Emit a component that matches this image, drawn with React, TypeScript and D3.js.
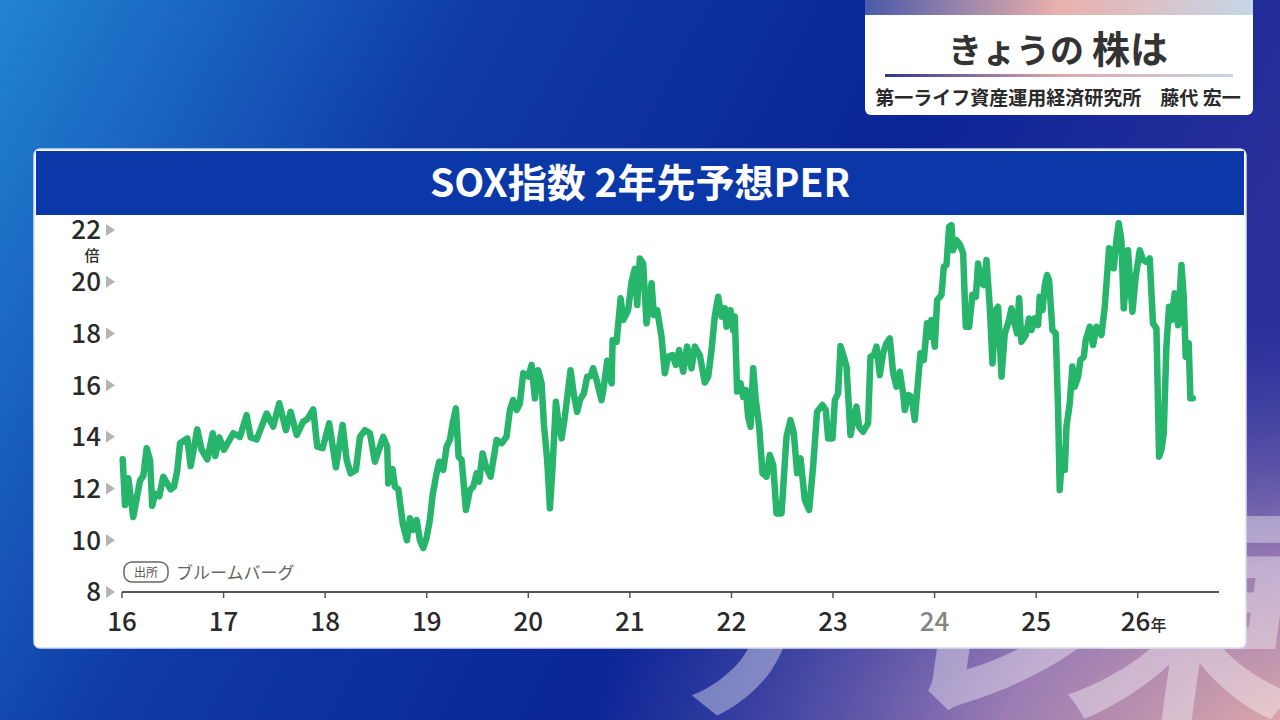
import { useRef, useEffect } from "react";
import * as d3 from "d3";

// decimal years (2016.0 = start of 2016)
const dates = [
  2016.007, 2016.03, 2016.062, 2016.111, 2016.177, 2016.21, 2016.243, 2016.276, 2016.298, 2016.325,
  2016.367, 2016.406, 2016.479, 2016.512, 2016.544, 2016.571, 2016.643, 2016.676, 2016.741, 2016.784,
  2016.84, 2016.893, 2016.918, 2016.958, 2017.004, 2017.095, 2017.161, 2017.227, 2017.267, 2017.326,
  2017.424, 2017.489, 2017.548, 2017.614, 2017.66, 2017.72, 2017.784, 2017.824, 2017.883, 2017.922,
  2017.975, 2018.04, 2018.106, 2018.172, 2018.212, 2018.251, 2018.303, 2018.343, 2018.392, 2018.441,
  2018.49, 2018.572, 2018.611, 2018.621, 2018.664, 2018.687, 2018.72, 2018.766, 2018.805, 2018.835,
  2018.867, 2018.901, 2018.933, 2018.966, 2018.997, 2019.031, 2019.058, 2019.097, 2019.123, 2019.162,
  2019.196, 2019.228, 2019.255, 2019.287, 2019.314, 2019.344, 2019.386, 2019.425, 2019.458, 2019.491,
  2019.517, 2019.55, 2019.583, 2019.629, 2019.688, 2019.737, 2019.786, 2019.819, 2019.851, 2019.885,
  2019.917, 2019.95, 2019.999, 2020.033, 2020.065, 2020.097, 2020.131, 2020.154, 2020.186, 2020.213,
  2020.239, 2020.272, 2020.294, 2020.328, 2020.36, 2020.416, 2020.449, 2020.481, 2020.508, 2020.547,
  2020.58, 2020.613, 2020.639, 2020.672, 2020.721, 2020.744, 2020.777, 2020.82, 2020.83, 2020.869,
  2020.909, 2020.934, 2020.983, 2021.017, 2021.049, 2021.072, 2021.098, 2021.131, 2021.164, 2021.214,
  2021.236, 2021.269, 2021.312, 2021.344, 2021.377, 2021.42, 2021.453, 2021.485, 2021.525, 2021.564,
  2021.607, 2021.64, 2021.689, 2021.738, 2021.771, 2021.804, 2021.837, 2021.869, 2021.903, 2021.935,
  2021.952, 2021.991, 2022.017, 2022.033, 2022.056, 2022.09, 2022.115, 2022.142, 2022.164, 2022.188,
  2022.214, 2022.24, 2022.273, 2022.306, 2022.345, 2022.378, 2022.411, 2022.444, 2022.493, 2022.542,
  2022.581, 2022.614, 2022.647, 2022.68, 2022.722, 2022.765, 2022.804, 2022.843, 2022.896, 2022.929,
  2022.952, 2022.995, 2023.018, 2023.05, 2023.074, 2023.106, 2023.133, 2023.172, 2023.205, 2023.231,
  2023.257, 2023.296, 2023.345, 2023.369, 2023.402, 2023.428, 2023.461, 2023.493, 2023.526, 2023.559,
  2023.592, 2023.625, 2023.657, 2023.69, 2023.707, 2023.739, 2023.773, 2023.805, 2023.838, 2023.861,
  2023.894, 2023.926, 2023.953, 2023.969, 2024.002, 2024.025, 2024.068, 2024.091, 2024.117, 2024.143,
  2024.166, 2024.182, 2024.215, 2024.248, 2024.281, 2024.307, 2024.34, 2024.373, 2024.406, 2024.428,
  2024.462, 2024.484, 2024.511, 2024.543, 2024.57, 2024.602, 2024.625, 2024.659, 2024.691, 2024.724,
  2024.757, 2024.78, 2024.812, 2024.832, 2024.855, 2024.898, 2024.93, 2024.954, 2024.986, 2025.019,
  2025.035, 2025.062, 2025.085, 2025.107, 2025.127, 2025.16, 2025.193, 2025.216, 2025.232, 2025.259,
  2025.282, 2025.298, 2025.331, 2025.357, 2025.38, 2025.413, 2025.436, 2025.469, 2025.488, 2025.528,
  2025.56, 2025.593, 2025.643, 2025.675, 2025.718, 2025.741, 2025.764, 2025.79, 2025.813, 2025.839,
  2025.862, 2025.889, 2025.904, 2025.928, 2025.948, 2025.98, 2026.02, 2026.052, 2026.085, 2026.118,
  2026.15, 2026.184, 2026.21, 2026.233, 2026.256, 2026.282, 2026.308, 2026.331, 2026.364, 2026.397,
  2026.43, 2026.453, 2026.472, 2026.502, 2026.518, 2026.542,
];

// SOX index forward (2 years ahead) PER, times
const perValues = [
  13.13, 11.36, 12.4, 10.9, 12.3, 12.5, 13.56, 13.1, 11.33, 11.8,
  11.7, 12.46, 11.97, 12.07, 12.7, 13.75, 13.94, 12.87, 14.29, 13.5,
  13.13, 14.14, 13.26, 13.98, 13.5, 14.14, 14.0, 14.84, 13.98, 13.9,
  14.9, 14.4, 15.3, 14.26, 14.97, 14.07, 14.59, 14.68, 15.06, 13.62,
  13.56, 14.52, 12.82, 14.46, 13.1, 12.59, 12.72, 14.0, 14.26, 14.14,
  13.04, 14.0, 13.62, 12.2, 12.75, 12.07, 11.97, 10.6, 10.0, 10.85,
  10.4, 10.78, 10.0, 9.7, 10.07, 10.78, 11.75, 12.59, 13.04, 12.72,
  13.62, 13.88, 14.52, 15.1, 13.23, 13.1, 11.17, 11.94, 12.07, 12.59,
  12.27, 13.36, 12.85, 12.46, 13.88, 13.75, 14.0, 15.04, 15.42, 15.04,
  15.3, 16.46, 16.33, 16.78, 15.49, 16.58, 16.07, 14.46, 13.1, 11.24,
  12.85, 15.36, 14.65, 13.94, 14.78, 16.58, 15.62, 14.97, 15.42, 15.68,
  16.33, 16.35, 16.65, 16.2, 15.42, 15.94, 16.94, 16.07, 17.74, 17.68,
  19.36, 18.52, 18.9, 20.0, 20.5, 19.1, 20.9, 20.7, 18.39, 19.94,
  18.71, 18.9, 17.87, 16.46, 17.1, 17.16, 16.78, 17.36, 16.52, 17.49,
  16.65, 17.49, 17.15, 16.1, 16.33, 17.36, 18.7, 19.42, 18.65, 18.97,
  18.26, 18.9, 18.13, 18.65, 15.75, 16.07, 15.55, 15.81, 14.78, 14.39,
  16.65, 15.42, 14.39, 12.59, 12.46, 13.3, 12.91, 11.04, 11.04, 14.0,
  14.65, 14.14, 12.59, 13.17, 11.56, 11.17, 12.85, 14.97, 15.23, 15.04,
  13.94, 13.94, 15.42, 15.68, 17.51, 17.1, 16.72, 14.07, 14.78, 15.17,
  14.39, 14.2, 14.52, 17.1, 17.16, 17.49, 16.39, 17.23, 17.62, 17.81,
  16.46, 15.94, 16.52, 15.68, 15.04, 15.62, 15.55, 14.65, 16.2, 17.23,
  16.97, 18.39, 17.87, 18.52, 17.49, 19.29, 19.49, 20.58, 20.65, 22.13,
  22.19, 21.22, 21.61, 21.45, 21.1, 18.26, 18.26, 19.5, 19.42, 20.7,
  19.94, 19.87, 20.84, 19.03, 16.84, 18.9, 19.03, 16.33, 18.0, 18.39,
  18.97, 18.52, 18.0, 19.36, 17.68, 17.94, 18.58, 18.13, 18.58, 18.32,
  19.42, 18.9, 19.87, 20.26, 20.06, 18.13, 18.0, 15.04, 11.94, 13.49,
  12.72, 14.39, 15.3, 16.72, 15.94, 16.33, 16.97, 17.1, 17.74, 18.26,
  17.55, 18.26, 17.94, 19.03, 21.29, 21.22, 20.52, 21.61, 22.26, 21.61,
  18.97, 20.19, 21.22, 19.81, 18.84, 20.19, 21.22, 20.84, 20.77, 20.9,
  18.39, 18.2, 13.23, 13.49, 14.14, 17.49, 19.03, 18.52, 19.55, 18.32,
  20.65, 19.42, 17.1, 17.62, 15.49, 15.49,
];

const yTicks = [8, 10, 12, 14, 16, 18, 20, 22];
const xTicks = [2016, 2017, 2018, 2019, 2020, 2021, 2022, 2023, 2024, 2025, 2026];
const xTickLabels = ["16", "17", "18", "19", "20", "21", "22", "23", "24", "25", "26"];

const title = "SOX指数 2年先予想PER";
const yUnit = "倍";
const xUnit = "年";
const sourceTag = "出所";
const sourceName = "ブルームバーグ";
const boxTitle = "きょうの";
const boxTitle2 = "株は";
const boxSub = "第一ライフ資産運用経済研究所　藤代 宏一";
const watermark = ["テ", "レ", "東"];

const FONT = '"Noto Sans CJK JP", "Noto Sans", sans-serif';

export default function App() {
  const gRef = useRef<SVGGElement>(null);

  const x = d3.scaleLinear().domain([2016, 2026.8]).range([122, 1219]);
  const y = d3.scaleLinear().domain([8, 22]).range([592, 230]);

  useEffect(() => {
    const g = d3.select(gRef.current);
    g.selectAll("*").remove();

    // y axis labels with grey pointers
    const yg = g.append("g");
    yTicks.forEach((t) => {
      yg.append("text")
        .attr("x", 101)
        .attr("y", y(t))
        .attr("dy", "0.36em")
        .attr("text-anchor", "end")
        .attr("font-size", 26)
        .attr("font-weight", 500)
        .attr("fill", "#2a2a2a")
        .text(t);
      yg.append("path")
        .attr("d", `M106,${y(t) - 6}L115,${y(t)}L106,${y(t) + 6}Z`)
        .attr("fill", "#b4b4b4");
    });
    yg.append("text")
      .attr("x", 92)
      .attr("y", y(22) + 31)
      .attr("text-anchor", "middle")
      .attr("font-size", 15)
      .attr("font-weight", 500)
      .attr("fill", "#2a2a2a")
      .text(yUnit);

    // x axis
    const xg = g.append("g");
    xg.append("line")
      .attr("x1", x(2016))
      .attr("x2", x(2026.8))
      .attr("y1", y(8))
      .attr("y2", y(8))
      .attr("stroke", "#555")
      .attr("stroke-width", 2);
    xTicks.forEach((t, i) => {
      const last = i === xTicks.length - 1;
      xg.append("line")
        .attr("x1", x(t))
        .attr("x2", x(t))
        .attr("y1", y(8))
        .attr("y2", y(8) + 6)
        .attr("stroke", "#555")
        .attr("stroke-width", 1.5);
      const txt = xg.append("text")
        .attr("x", x(t))
        .attr("y", 631)
        .attr("text-anchor", last ? "start" : "middle")
        .attr("dx", last ? -17 : 0)
        .attr("font-size", 26)
        .attr("font-weight", 500)
        .attr("fill", xTickLabels[i] === "24" ? "#858585" : "#2a2a2a");
      txt.append("tspan").text(xTickLabels[i]);
      if (last) txt.append("tspan").attr("font-size", 16).text(xUnit);
    });

    // source note
    g.append("rect")
      .attr("x", 124)
      .attr("y", 562)
      .attr("width", 44)
      .attr("height", 20)
      .attr("rx", 8)
      .attr("fill", "none")
      .attr("stroke", "#666")
      .attr("stroke-width", 1.5);
    g.append("text")
      .attr("x", 146)
      .attr("y", 577)
      .attr("text-anchor", "middle")
      .attr("font-size", 12)
      .attr("fill", "#555")
      .text(sourceTag);
    g.append("text")
      .attr("x", 176)
      .attr("y", 579)
      .attr("font-size", 17)
      .attr("fill", "#666")
      .text(sourceName);

    // the PER line
    const line = d3
      .line<number>()
      .x((_, i) => x(dates[i]))
      .y((d) => y(d));
    g.append("path")
      .attr("d", line(perValues))
      .attr("fill", "none")
      .attr("stroke", "#27b56b")
      .attr("stroke-width", 6.5)
      .attr("stroke-linejoin", "round")
      .attr("stroke-linecap", "round");
  }, []);

  return (
    <svg width={1280} height={720} style={{ position: "absolute", left: 0, top: 0, fontFamily: FONT }}>
      <defs>
        <linearGradient id="bgLin" x1="0" y1="0" x2="1" y2="0.3">
          <stop offset="0" stopColor="#2184d2" />
          <stop offset="0.35" stopColor="#0f3aa6" />
          <stop offset="0.7" stopColor="#0b2596" />
          <stop offset="1" stopColor="#2a2f9a" />
        </linearGradient>
        <radialGradient id="bgPink" cx="1.05" cy="1.05" r="0.6">
          <stop offset="0" stopColor="#f2b6a6" stopOpacity="1" />
          <stop offset="0.45" stopColor="#b08ab8" stopOpacity="0.85" />
          <stop offset="1" stopColor="#5a5ab0" stopOpacity="0" />
        </radialGradient>
        <linearGradient id="stripGrad" x1="0" y1="0" x2="1" y2="0">
          <stop offset="0" stopColor="#4a5aa8" />
          <stop offset="0.5" stopColor="#eab0ac" />
          <stop offset="1" stopColor="#c6d6e6" />
        </linearGradient>
        <linearGradient id="ruleGrad" x1="0" y1="0" x2="1" y2="0">
          <stop offset="0" stopColor="#2a3796" />
          <stop offset="0.5" stopColor="#e0a6a8" />
          <stop offset="1" stopColor="#c8d4e2" />
        </linearGradient>
      </defs>

      <rect width={1280} height={720} fill="url(#bgLin)" />
      <rect width={1280} height={720} fill="url(#bgPink)" />

      {/* faint channel logo behind the panel */}
      <g fill="#ffffff" fillOpacity={0.38} fontSize={240} fontWeight={700}>
        {watermark.map((c, i) => (
          <text key={c} x={[640, 880, 1060][i]} y={700} transform={`skewX(-8)`} style={{ transformOrigin: "0 700px" }}>
            {c}
          </text>
        ))}
      </g>

      {/* top-right programme box */}
      <g>
        <rect x={865} y={-8} width={388} height={123} rx={6} fill="#ffffff" />
        <rect x={865} y={0} width={388} height={15} fill="url(#stripGrad)" />
        <text x={1058} y={63} textAnchor="middle" fontWeight={700} fill="#333">
          <tspan fontSize={34}>{boxTitle}</tspan>
          <tspan fontSize={38} dx={8}>{boxTitle2}</tspan>
        </text>
        <rect x={885} y={74} width={348} height={3} fill="url(#ruleGrad)" />
        <text x={1058} y={105} textAnchor="middle" fontSize={19} fontWeight={700} fill="#2a2a2a">
          {boxSub}
        </text>
      </g>

      {/* chart panel */}
      <rect x={34} y={149} width={1212} height={499} rx={6} fill="#ffffff" stroke="#d8e0f0" strokeWidth={1.5} />
      <rect x={36} y={151} width={1208} height={64} fill="#0b38a8" />
      <text x={640} y={197} textAnchor="middle" fontSize={39} fontWeight={700} fill="#ffffff">
        {title}
      </text>

      <g ref={gRef}></g>
    </svg>
  );
}
